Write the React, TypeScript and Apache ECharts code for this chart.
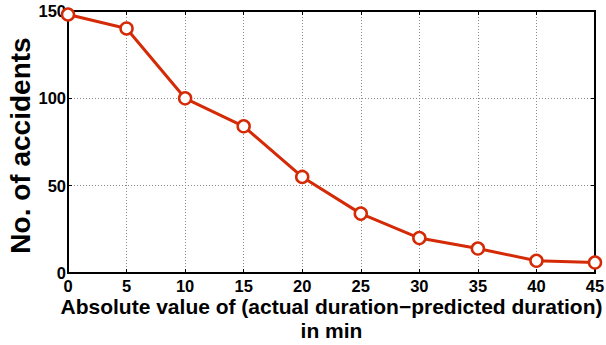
import React, { useEffect, useRef } from "react";
import * as echarts from "echarts";

const xValues = [0, 5, 10, 15, 20, 25, 30, 35, 40, 45];
const accidents = [148, 140, 100, 84, 55, 34, 20, 14, 7, 6];
const yTicks = [0, 50, 100, 150];

const FONT = "'Liberation Sans', Arial, Helvetica, sans-serif";
const RED = "#d42a06";

export default function App() {
  const ref = useRef<HTMLDivElement>(null);
  useEffect(() => {
    if (!ref.current) return;
    const chart = echarts.init(ref.current, null, { renderer: "svg" });
    const baseX = {
      type: "value" as const,
      min: 0,
      max: 45,
      interval: 5,
    };
    const baseY = {
      type: "value" as const,
      min: yTicks[0],
      max: yTicks[yTicks.length - 1],
      interval: 50,
    };
    const grid = { color: "#8a8a8a", type: [1, 2], width: 1 };
    chart.setOption({
      animation: false,
      backgroundColor: "#ffffff",
      grid: {
        left: 68,
        right: 11,
        top: 11,
        bottom: 72,
        containLabel: false,
        outerBoundsMode: "none",
        show: true,
        borderColor: "#000",
        borderWidth: 2,
        backgroundColor: "transparent",
      },
      xAxis: [
        {
          ...baseX,
          position: "bottom",
          axisLine: { show: true, onZero: false, lineStyle: { color: "#000", width: 2 } },
          axisTick: { show: true, inside: true, length: 4, lineStyle: { color: "#000", width: 1 } },
          axisLabel: { show: true, color: "#000", fontFamily: FONT, fontWeight: "bold", fontSize: 16.5, lineHeight: 14, margin: 6 },
          splitLine: { show: true, lineStyle: grid },
          name: "Absolute value of (actual duration\u2212predicted duration)\nin min",
          nameLocation: "middle",
          nameGap: 21,
          nameMoveOverlap: false,
          nameTextStyle: { color: "#000", fontFamily: FONT, fontWeight: "bold", fontSize: 21, lineHeight: 24, verticalAlign: "top" },
        },
        {
          ...baseX,
          position: "top",
          axisLine: { show: true, onZero: false, lineStyle: { color: "#000", width: 2 } },
          axisTick: { show: true, inside: true, length: 4, lineStyle: { color: "#000", width: 1 } },
          axisLabel: { show: false },
          splitLine: { show: false },
        },
      ],
      yAxis: [
        {
          ...baseY,
          position: "left",
          axisLine: { show: true, onZero: false, lineStyle: { color: "#000", width: 2 } },
          axisTick: { show: true, inside: true, length: 4, lineStyle: { color: "#000", width: 1 } },
          axisLabel: { show: true, color: "#000", fontFamily: FONT, fontWeight: "bold", fontSize: 16.5, margin: 2 },
          splitLine: { show: true, lineStyle: grid },
          name: "No. of accidents",
          nameLocation: "middle",
          nameGap: 34,
          nameMoveOverlap: false,
          nameTextStyle: { color: "#000", fontFamily: FONT, fontWeight: "bold", fontSize: 28, padding: [0, 7, 0, 0] },
        },
        {
          ...baseY,
          position: "right",
          axisLine: { show: true, onZero: false, lineStyle: { color: "#000", width: 2 } },
          axisTick: { show: true, inside: true, length: 4, lineStyle: { color: "#000", width: 1 } },
          axisLabel: { show: false },
          splitLine: { show: false },
        },
      ],
      series: [
        {
          type: "line",
          xAxisIndex: 1,
          yAxisIndex: 1,
          data: [],
          silent: true,
        },
        {
          type: "line",
          xAxisIndex: 0,
          yAxisIndex: 0,
          data: xValues.map((x, i) => [x, accidents[i]]),
          lineStyle: { color: RED, width: 3 },
          symbol: "circle",
          symbolSize: 12,
          itemStyle: { color: "#ffffff", borderColor: RED, borderWidth: 2.5 },
          clip: false,
          z: 5,
        },
      ],
    });
    return () => chart.dispose();
  }, []);
  return <div ref={ref} style={{ width: 606, height: 345, position: "absolute", left: 0, top: 0 }} />;
}
